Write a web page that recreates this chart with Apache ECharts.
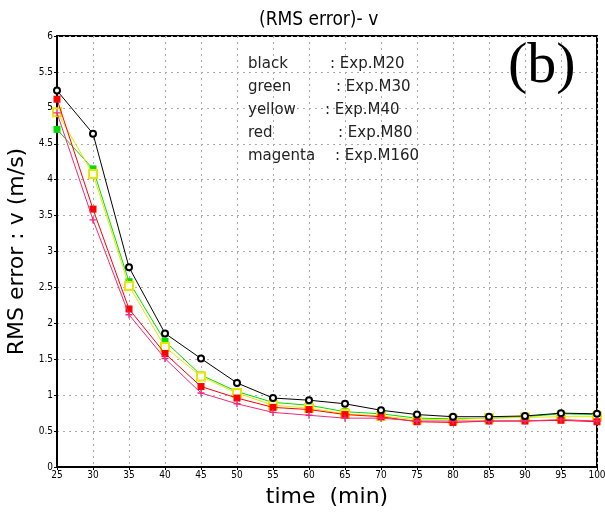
<!DOCTYPE html>
<html><head><meta charset="utf-8">
<script src="https://cdn.jsdelivr.net/npm/echarts@6/dist/echarts.min.js"></script>
<style>html,body{margin:0;padding:0;background:#fff}#c{width:605px;height:513px}</style>
</head><body><div id="c"></div>
<script>
const times = [25,30,35,40,45,50,55,60,65,70,75,80,85,90,95,100];
const blackM20   = [5.24,4.64,2.78,1.86,1.51,1.17,0.96,0.93,0.88,0.79,0.73,0.70,0.70,0.71,0.75,0.74];
const greenM30   = [4.70,4.15,2.58,1.75,1.28,1.05,0.90,0.86,0.77,0.74,0.68,0.67,0.68,0.70,0.74,0.73];
const yellowM40  = [4.94,4.08,2.52,1.67,1.26,1.03,0.86,0.82,0.74,0.71,0.66,0.66,0.68,0.69,0.70,0.70];
const redM80     = [5.12,3.59,2.20,1.58,1.12,0.96,0.83,0.80,0.73,0.70,0.63,0.62,0.64,0.64,0.65,0.63];
const magentaM160= [4.93,3.44,2.12,1.51,1.03,0.88,0.76,0.72,0.68,0.68,0.64,0.64,0.64,0.64,0.66,0.64];
const legendLines = [
  ['black', ': Exp.M20'],
  ['green', ': Exp.M30'],
  ['yellow', ': Exp.M40'],
  ['red', ': Exp.M80'],
  ['magenta', ': Exp.M160']
];
const titleText = '(RMS error)- v';
const panelLabel = '(b)';

const pair = arr => arr.map((v,i)=>[times[i], v]);
const plus = 'path://M4,0H6V4H10V6H6V10H4V6H0V4H4Z';
function mk(name, data, color, symbol, size, z, bw){
  const s = {name, type:'line', data:pair(data), symbol, symbolSize:size, z,
    lineStyle:{color, width:1}, itemStyle:{color},
    animation:false};
  if (bw) s.itemStyle.borderWidth = bw;
  return s;
}
const chart = echarts.init(document.getElementById('c'), null, {renderer:'canvas'});
const lblFont = {fontFamily:'"DejaVu Sans Condensed","Liberation Sans Narrow",sans-serif', fontSize:10, color:'#000'};
const legendX = [[248,330,350],[248,336,355],[248,325,346],[248,338,355],[248,335,346]];
const legendY = [66,89,112,135,158];
const graphics = [];
legendLines.forEach((l,i)=>{
  graphics.push({type:'text', left:legendX[i][0], top:legendY[i]-9, z:100, style:{text:l[0], font:'15px "DejaVu Sans"', fill:'#222'}});
  graphics.push({type:'text', left:legendX[i][1], top:legendY[i]-9, z:100, style:{text:l[1], font:'15px "DejaVu Sans"', fill:'#222'}});
});
graphics.push({type:'text', left:508, top:38, z:100, style:{text:panelLabel, font:'58px "Liberation Serif"', fill:'#000'}});
chart.setOption({
  backgroundColor:'#fff',
  title:{text:titleText, left:254, top:6, textStyle:{fontFamily:'"DejaVu Sans Condensed","DejaVu Sans"', fontSize:19, fontWeight:'normal', color:'#000'}},
  grid:{left:57, right:8, top:36, bottom:46, outerBoundsMode:'none', containLabel:false, show:true, borderColor:'#000', borderWidth:2, backgroundColor:'transparent'},
  xAxis:{type:'value', min:25, max:100, interval:5, name:'time  (min)', nameLocation:'middle', nameGap:19,
    nameTextStyle:{fontFamily:'"DejaVu Sans"', fontSize:22, color:'#000'},
    axisLine:{lineStyle:{color:'#000', width:2}}, axisTick:{length:3, lineStyle:{color:'#000'}},
    axisLabel:Object.assign({margin:3}, lblFont),
    splitLine:{show:true, lineStyle:{color:'#aaa', type:[2,4], width:1}}},
  yAxis:{type:'value', min:0, max:6, interval:0.5, name:'RMS error : v (m/s)', nameLocation:'middle', nameGap:24,
    nameTextStyle:{fontFamily:'"DejaVu Sans"', fontSize:22, color:'#000'},
    axisLine:{lineStyle:{color:'#000', width:2}}, axisTick:{length:3, lineStyle:{color:'#000'}},
    axisLabel:Object.assign({margin:4}, lblFont),
    splitLine:{show:true, lineStyle:{color:'#aaa', type:[2,4], width:1}}},
  series:[
    mk('green', greenM30, '#00dd00', 'rect', 7, 2),
    mk('yellow', yellowM40, '#e6e600', 'emptyRect', 8, 3, 1),
    mk('red', redM80, '#ff0000', 'rect', 7, 4),
    mk('magenta', magentaM160, '#ee2a7b', plus, 7, 5),
    mk('black', blackM20, '#000000', 'emptyCircle', 6, 6, 1)
  ],
  graphic:graphics
});
</script></body></html>
